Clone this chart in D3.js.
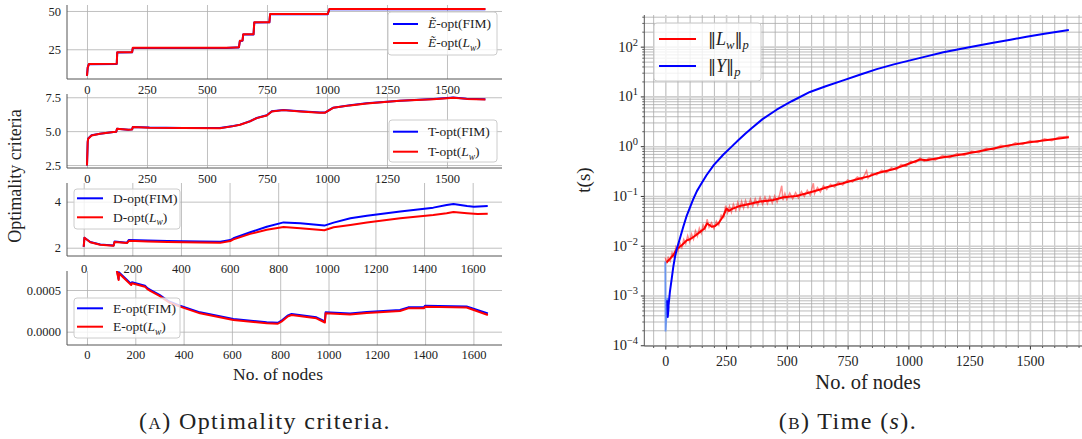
<!DOCTYPE html>
<html><head><meta charset="utf-8">
<script src="https://cdn.jsdelivr.net/npm/d3@7"></script>
<style>body{margin:0;background:#fff}svg{display:block}svg text{font-family:"Liberation Serif","Times New Roman",serif}</style>
</head><body><svg id="c" width="1082" height="439"></svg>
<script>
// ---------------- DATA ----------------
const ticksX250 = [0,250,500,750,1000,1250,1500];
const ticksX200 = [0,200,400,600,800,1000,1200,1400,1600];
const ticksEt = [25,50];
const ticksT = [2.5,5.0,7.5];
const ticksD = [2,4];
const ticksE = [0,0.0005];
const ticksTimeX = [0,250,500,750,1000,1250,1500];
const ticksTimeExp = [-4,-3,-2,-1,0,1,2];

// Panel 1: E~-opt
const etFIM = [[0,7.6],[3,13],[8,15.3],[124,15.4],[126,22.9],[188,23.0],[191,25.9],[580,25.9],[620,26.1],[633,26.2],[637,30.4],[648,30.6],[651,34.7],[694,34.7],[697,42.5],[760,42.6],[763,47.9],[1003,47.9],[1010,51.2],[1660,51.2]];
const etLw  = [[0,7.6],[3,13],[8,15.4],[124,15.5],[126,23.0],[188,23.1],[191,26.0],[580,26.0],[620,26.2],[633,26.3],[637,30.5],[648,30.7],[651,34.8],[694,34.8],[697,42.6],[760,42.7],[763,48.0],[1003,48.0],[1010,51.3],[1660,51.3]];
// Panel 2: T-opt
const tFIM = [[0,2.47],[3,4.2],[5,4.45],[19,4.69],[54,4.81],[110,4.94],[122,4.96],[125,5.18],[172,5.11],[188,5.13],[191,5.31],[260,5.26],[400,5.24],[554,5.23],[610,5.38],[638,5.48],[679,5.73],[707,5.97],[749,6.17],[770,6.46],[818,6.56],[888,6.46],[971,6.37],[992,6.37],[1026,6.73],[1096,6.91],[1165,7.05],[1304,7.25],[1443,7.37],[1500,7.44],[1526,7.48],[1582,7.39],[1660,7.35]];
const tLw  = [[0,2.47],[3,4.2],[5,4.44],[19,4.68],[54,4.8],[110,4.93],[122,4.95],[125,5.17],[172,5.1],[188,5.12],[191,5.3],[260,5.25],[400,5.23],[554,5.22],[610,5.37],[638,5.47],[679,5.72],[707,5.96],[749,6.16],[770,6.45],[818,6.55],[888,6.45],[971,6.36],[992,6.36],[1026,6.72],[1096,6.9],[1165,7.04],[1304,7.24],[1443,7.36],[1500,7.43],[1526,7.47],[1582,7.38],[1660,7.34]];
// Panel 3: D-opt
const dFIM = [[0,2.04],[3,2.43],[27,2.25],[68,2.14],[123,2.1],[127,2.27],[178,2.22],[186,2.34],[263,2.31],[345,2.29],[480,2.27],[562,2.26],[603,2.33],[616,2.41],[685,2.67],[753,2.91],[822,3.1],[891,3.06],[990,2.96],[1028,3.09],[1097,3.28],[1165,3.39],[1302,3.57],[1438,3.74],[1493,3.85],[1521,3.9],[1577,3.81],[1605,3.78],[1662,3.81]];
const dLw  = [[0,2.04],[3,2.43],[27,2.24],[68,2.13],[123,2.09],[127,2.25],[178,2.2],[186,2.3],[263,2.27],[345,2.25],[480,2.23],[562,2.21],[603,2.29],[616,2.36],[685,2.6],[753,2.78],[822,2.9],[891,2.84],[990,2.76],[1028,2.89],[1097,2.99],[1165,3.09],[1302,3.28],[1438,3.42],[1493,3.5],[1521,3.55],[1577,3.5],[1620,3.46],[1662,3.47]];
// Panel 4: E-opt
const eFIM = [[0,0.0042],[40,0.0021],[80,0.0013],[119,0.00081],[131,0.000632],[132,0.000712],[183,0.000572],[186,0.000592],[240,0.000552],[250,0.000522],[262,0.000502],[300,0.000442],[340,0.000362],[385,0.000312],[468,0.000232],[606,0.000152],[744,0.000112],[790,0.000107],[805,0.000132],[830,0.000192],[847,0.000212],[950,0.000172],[985,0.000122],[988,0.000232],[1089,0.000217],[1158,0.000237],[1296,0.00026],[1330,0.000292],[1395,0.000292],[1400,0.000312],[1572,0.000302],[1660,0.00022]];
const eLw  = [[0,0.0042],[40,0.0021],[80,0.0013],[119,0.0008],[131,0.00062],[132,0.0007],[183,0.00056],[186,0.00058],[240,0.00054],[250,0.00051],[262,0.00049],[300,0.00043],[340,0.00035],[385,0.0003],[468,0.00022],[606,0.00014],[744,0.0001],[790,0.000095],[805,0.00012],[830,0.00018],[847,0.0002],[950,0.00016],[985,0.00011],[988,0.00022],[1089,0.000205],[1158,0.000225],[1296,0.000248],[1330,0.00028],[1395,0.00028],[1400,0.0003],[1572,0.00029],[1660,0.0002]];

// Right panel: time (s)
const timeYraw = [[0,0.0048],[1,0.00019],[9,0.0009],[12,0.0004],[14,0.0006]];
const timeY = [[8,0.0008],[10,0.00037],[13,0.0006],[19,0.0012],[26,0.0021],[33,0.0038],[40,0.006],[47,0.0085],[60,0.014],[74,0.024],[88,0.04],[100,0.056],[115,0.086],[130,0.125],[143,0.16],[170,0.264],[200,0.42],[239,0.68],[273,0.98],[300,1.32],[330,1.8],[355,2.3],[400,3.5],[458,5.4],[520,8.0],[595,12.3],[660,16.0],[732,21.0],[800,27.2],[870,35.3],[940,44],[1007,53],[1070,63],[1144,77],[1250,97],[1349,120],[1420,138],[1486,158],[1560,182],[1660,216]];
const timeLw = [[5,0.0046],[20,0.0055],[33,0.0065],[47,0.0085],[70,0.0105],[88,0.0128],[102,0.0135],[120,0.0155],[143,0.019],[160,0.022],[172,0.028],[182,0.026],[191,0.024],[205,0.025],[218,0.028],[230,0.034],[239,0.04],[252,0.056],[262,0.05],[275,0.055],[307,0.063],[350,0.07],[390,0.077],[444,0.083],[486,0.094],[540,0.1],[582,0.113],[637,0.135],[664,0.15],[730,0.18],[801,0.225],[840,0.25],[870,0.285],[938,0.343],[1007,0.453],[1048,0.54],[1075,0.52],[1144,0.6],[1200,0.66],[1281,0.775],[1350,0.9],[1418,1.05],[1514,1.23],[1580,1.35],[1660,1.52]];
const timeLwRaw = [[0,0.0058],[5,0.0044],[12,0.0058],[20,0.0049],[28,0.0072],[36,0.006],[44,0.0095],[52,0.0078],[60,0.0115],[68,0.0092],[76,0.0133],[84,0.011],[92,0.0158],[100,0.012],[108,0.0172],[116,0.0135],[124,0.0198],[132,0.0155],[140,0.0225],[148,0.0178],[156,0.026],[164,0.0215],[172,0.034],[180,0.0235],[190,0.029],[200,0.022],[210,0.031],[220,0.026],[230,0.041],[240,0.037],[248,0.064],[256,0.046],[264,0.062],[272,0.047],[280,0.068],[290,0.051],[298,0.074],[306,0.054],[314,0.078],[322,0.057],[330,0.081],[340,0.059],[350,0.085],[360,0.062],[370,0.088],[380,0.065],[390,0.093],[400,0.068],[410,0.095],[420,0.07],[430,0.097],[440,0.072],[450,0.1],[460,0.075],[470,0.105],[479,0.16],[484,0.082],[492,0.112],[500,0.085],[512,0.115],[524,0.088],[536,0.117],[548,0.091],[560,0.122],[572,0.098],[584,0.13],[596,0.104],[609,0.18],[614,0.112],[626,0.148],[638,0.12],[650,0.16],[664,0.135],[680,0.172],[696,0.15],[712,0.19],[730,0.165],[750,0.21],[770,0.19],[790,0.24],[810,0.212],[828,0.32],[834,0.226],[850,0.285],[870,0.264],[890,0.33],[910,0.295],[930,0.37],[950,0.335],[970,0.43],[990,0.395],[1010,0.5],[1030,0.465],[1048,0.58],[1065,0.495],[1085,0.575],[1110,0.525],[1140,0.645],[1170,0.59],[1200,0.71],[1230,0.655],[1260,0.8],[1290,0.74],[1320,0.91],[1350,0.845],[1380,1.04],[1410,0.97],[1440,1.17],[1470,1.08],[1500,1.29],[1530,1.19],[1560,1.4],[1590,1.29],[1620,1.53],[1660,1.56]];

// ---------------- DRAWING ----------------
const svg = d3.select("#c");
const GRID = "#b0b0b0", SPINE = "#555", TXT = "#222";
const BLUE = "#0000ff", RED = "#ff0000";

function rich(t, parts, size){
  let shift = 0;
  parts.forEach(([s, st]) => {
    const ts = t.append("tspan").text(s);
    let target = 0;
    if (st === "sub"){ target = size*0.25; ts.attr("font-size", size*0.7); }
    if (st === "sup"){ target = -size*0.42; ts.attr("font-size", size*0.72); }
    if (st === "i" || st === "sub") ts.style("font-style","italic");
    if (st === "sc") ts.style("font-variant","small-caps");
    if (st === "bar") ts.style("font-family","'DejaVu Serif',serif").attr("font-size", size*0.9);
    ts.attr("dy", target - shift);
    shift = target;
  });
}

function legend(g, box, items, fs){
  g.append("rect").attr("x",box[0]).attr("y",box[1]).attr("width",box[2]-box[0]).attr("height",box[3]-box[1])
    .attr("rx",3).attr("fill","#fff").attr("fill-opacity",0.8).attr("stroke","#cccccc").attr("stroke-width",1);
  items.forEach(it => {
    g.append("line").attr("x1",it.hx[0]).attr("x2",it.hx[1]).attr("y1",it.y).attr("y2",it.y)
      .attr("stroke",it.color).attr("stroke-width",2);
    const t = g.append("text").attr("x",it.tx).attr("y",it.y + fs*0.33).attr("font-size",fs).attr("fill",TXT);
    rich(t, it.label, fs);
  });
}

let clipN = 0;
function leftPanel(p){
  const g = svg.append("g");
  const [xl,xr] = p.x.range(), [yb,yt] = p.y.range();
  const id = "clip" + (clipN++);
  svg.append("clipPath").attr("id",id).append("rect").attr("x",xl).attr("y",yt).attr("width",xr-xl).attr("height",yb-yt);
  const gx = g.append("g").attr("transform",`translate(0,${yb})`)
    .call(d3.axisBottom(p.x).tickValues(p.xt).tickSize(-(yb-yt)).tickFormat(""));
  gx.select(".domain").remove();
  gx.selectAll("line").attr("stroke",GRID).attr("stroke-width",0.8);
  const gy = g.append("g").attr("transform",`translate(${xl},0)`)
    .call(d3.axisLeft(p.y).tickValues(p.yt).tickSize(-(xr-xl)).tickFormat(""));
  gy.select(".domain").remove();
  gy.selectAll("line").attr("stroke",GRID).attr("stroke-width",0.8);
  g.append("line").attr("x1",xl).attr("x2",xl).attr("y1",yt).attr("y2",yb).attr("stroke",SPINE).attr("stroke-width",1);
  g.append("line").attr("x1",xl).attr("x2",xr).attr("y1",yb).attr("y2",yb).attr("stroke",SPINE).attr("stroke-width",1);
  const lx = g.append("g").attr("transform",`translate(0,${p.xlab})`)
    .call(d3.axisBottom(p.x).tickValues(p.xt).tickSize(0).tickPadding(0).tickFormat(d3.format("d")));
  lx.select(".domain").remove();
  lx.selectAll("text").attr("y",0).attr("dy",0).attr("font-size",12.5).attr("fill",TXT);
  const ly = g.append("g").attr("transform",`translate(61,0)`)
    .call(d3.axisLeft(p.y).tickValues(p.yt).tickSize(0).tickPadding(0).tickFormat(p.yfmt));
  ly.select(".domain").remove();
  ly.selectAll("text").attr("x",0).attr("dy","0.33em").attr("font-size",12.5).attr("fill",TXT);
  const line = d3.line().x(d=>p.x(d[0])).y(d=>p.y(d[1]));
  const lg = g.append("g").attr("clip-path",`url(#${id})`);
  p.series.forEach(s => lg.append("path").datum(s.data).attr("d",line).attr("fill","none")
    .attr("stroke",s.color).attr("stroke-width",2).attr("stroke-linejoin","round"));
  legend(g, p.legBox, p.legItems, 13.5);
}

const fimL = (pre) => [[pre,"i"],["-opt(FIM)","n"]];
const lwL = (pre) => [[pre,"i"],["-opt(","n"],["L","i"],["w","sub"],[")","n"]];
const fimN = (pre) => [[pre+"-opt(FIM)","n"]];
const lwN = (pre) => [[pre+"-opt(","n"],["L","i"],["w","sub"],[")","n"]];

leftPanel({
  x: d3.scaleLinear().domain([-83.3,1729.2]).range([67,502]),
  y: d3.scaleLinear().domain([5.6,53.9]).range([79,5]),
  xt: ticksX250, yt: ticksEt, yfmt: d3.format("d"), xlab: 94,
  series: [{data:etFIM,color:BLUE},{data:etLw,color:RED}],
  legBox:[388,12,497,55],
  legItems:[{y:24,hx:[393,418],tx:428,color:BLUE,label:fimL("Ẽ")},{y:43,hx:[393,418],tx:428,color:RED,label:lwL("Ẽ")}]
});
leftPanel({
  x: d3.scaleLinear().domain([-83.3,1729.2]).range([67,502]),
  y: d3.scaleLinear().domain([2.28,7.74]).range([168,94]),
  xt: ticksX250, yt: ticksT, yfmt: d3.format(".1f"), xlab: 183,
  series: [{data:tFIM,color:BLUE},{data:tLw,color:RED}],
  legBox:[389,120,497,162],
  legItems:[{y:131.7,hx:[393,418],tx:428,color:BLUE,label:fimN("T")},{y:151.7,hx:[393,418],tx:428,color:RED,label:lwN("T")}]
});
leftPanel({
  x: d3.scaleLinear().domain([-68.7,1720.7]).range([67,502]),
  y: d3.scaleLinear().domain([1.64,4.81]).range([256,183]),
  xt: ticksX200, yt: ticksD, yfmt: d3.format("d"), xlab: 272.5,
  series: [{data:dFIM,color:BLUE},{data:dLw,color:RED}],
  legBox:[74,189,180,229],
  legItems:[{y:198.3,hx:[77,103],tx:113,color:BLUE,label:fimN("D")},{y:217.3,hx:[77,103],tx:113,color:RED,label:lwN("D")}]
});
leftPanel({
  x: d3.scaleLinear().domain([-82.8,1718.4]).range([67,502]),
  y: d3.scaleLinear().domain([-0.00016,0.000728]).range([345,271]),
  xt: ticksX200, yt: ticksE, yfmt: d3.format(".4f"), xlab: 358.5,
  series: [{data:eFIM,color:BLUE},{data:eLw,color:RED}],
  legBox:[74,298,180,338],
  legItems:[{y:308.3,hx:[77,103],tx:113,color:BLUE,label:fimN("E")},{y:326.7,hx:[77,103],tx:113,color:RED,label:lwN("E")}]
});

svg.append("text").attr("transform","translate(15,176) rotate(-90)").attr("text-anchor","middle")
  .attr("dominant-baseline","central").attr("font-size",18).attr("fill",TXT).text("Optimality criteria");
svg.append("text").attr("x",278).attr("y",380).attr("text-anchor","middle")
  .attr("font-size",17.5).attr("fill",TXT).text("No. of nodes");

// ---------------- Right panel ----------------
(function(){
  const x = d3.scaleLinear().domain([-86.4,1743]).range([644.3,1089]);
  const y = d3.scaleLog().domain([Math.pow(10,-4.015),Math.pow(10,2.636)]).range([346,15]);
  const g = svg.append("g");
  const [xl,xr] = x.range(), [yb,yt] = y.range();
  svg.append("clipPath").attr("id","clipR").append("rect").attr("x",xl).attr("y",yt).attr("width",xr-xl).attr("height",yb-yt);
  const minorX = d3.range(-50,1750,50).filter(v => v % 250 !== 0);
  const majorY = ticksTimeExp.map(e => Math.pow(10,e));
  const minorY = y.ticks().filter(v => { const m = v/Math.pow(10,Math.floor(Math.log10(v)+1e-9)); return Math.abs(m-1) > 1e-6; });
  const grid = (axis, tr, vals, size, col, w) => {
    const gg = g.append("g").attr("transform",tr).call(axis.tickValues(vals).tickSize(size).tickFormat(""));
    gg.select(".domain").remove();
    gg.selectAll("line").attr("stroke",col).attr("stroke-width",w);
  };
  grid(d3.axisBottom(x), `translate(0,${yb})`, minorX, -(yb-yt), "#a9a9a9", 0.8);
  grid(d3.axisLeft(y), `translate(${xl},0)`, minorY, -(xr-xl), "#a9a9a9", 0.8);
  grid(d3.axisBottom(x), `translate(0,${yb})`, ticksTimeX, -(yb-yt), "#cfcfcf", 1.6);
  grid(d3.axisLeft(y), `translate(${xl},0)`, majorY, -(xr-xl), "#cfcfcf", 1.6);
  grid(d3.axisBottom(x), `translate(0,${yb})`, minorX, 2, "#333", 0.8);
  grid(d3.axisBottom(x), `translate(0,${yb})`, ticksTimeX, 3.5, "#333", 1);
  grid(d3.axisLeft(y), `translate(${xl},0)`, minorY, 2, "#333", 0.8);
  grid(d3.axisLeft(y), `translate(${xl},0)`, majorY, 3.5, "#333", 1);
  g.append("line").attr("x1",xl).attr("x2",xl).attr("y1",yt).attr("y2",yb).attr("stroke",SPINE).attr("stroke-width",1);
  g.append("line").attr("x1",xl).attr("x2",xr).attr("y1",yb).attr("y2",yb).attr("stroke",SPINE).attr("stroke-width",1);
  const lx = g.append("g").attr("transform","translate(0,366)")
    .call(d3.axisBottom(x).tickValues(ticksTimeX).tickSize(0).tickPadding(0).tickFormat(d3.format("d")));
  lx.select(".domain").remove();
  lx.selectAll("text").attr("y",0).attr("dy",0).attr("font-size",14).attr("fill",TXT);
  ticksTimeExp.forEach(e => {
    const t = g.append("text").attr("x",638).attr("y",y(Math.pow(10,e))+5).attr("text-anchor","end")
      .attr("font-size",14.5).attr("fill",TXT);
    rich(t, [["10","n"],[e<0?"\u2212"+(-e):String(e),"sup"]], 14.5);
  });
  const line = d3.line().x(d=>x(d[0])).y(d=>y(d[1]));
  const lg = g.append("g").attr("clip-path","url(#clipR)");
  lg.append("path").datum(timeLwRaw).attr("d",line).attr("fill","none").attr("stroke",RED).attr("stroke-opacity",0.45).attr("stroke-width",1.5);
  lg.append("path").datum(timeLw).attr("d",line).attr("fill","none").attr("stroke",RED).attr("stroke-width",2).attr("stroke-linejoin","round");
  lg.append("path").datum(timeYraw).attr("d",line).attr("fill","none").attr("stroke","#6a95ee").attr("stroke-width",1.8);
  lg.append("path").datum(timeY).attr("d",line).attr("fill","none").attr("stroke",BLUE).attr("stroke-width",2).attr("stroke-linejoin","round");
  legend(g, [654,23,761,81], [
    {y:39,hx:[659,696],tx:708,color:RED,label:[["\u2016","bar"],["L","i"],["w","sub"],["\u2016","bar"],["p","sub"]]},
    {y:66,hx:[659,696],tx:708,color:BLUE,label:[["\u2016","bar"],["Y","i"],["\u2016","bar"],["p","sub"]]}
  ], 18);
  svg.append("text").attr("transform","translate(583,180) rotate(-90)").attr("text-anchor","middle")
    .attr("dominant-baseline","central").attr("font-size",19).attr("fill",TXT).text("t(s)");
  svg.append("text").attr("x",868).attr("y",389).attr("text-anchor","middle")
    .attr("font-size",20.5).attr("fill",TXT).text("No. of nodes");
})();

const capA = svg.append("text").attr("x",265).attr("y",429).attr("text-anchor","middle")
  .attr("font-size",24).attr("letter-spacing",1.4).attr("fill",TXT);
rich(capA, [["(","n"],["a","sc"],[") Optimality criteria.","n"]], 24);
const capB = svg.append("text").attr("x",848).attr("y",429).attr("text-anchor","middle")
  .attr("font-size",24).attr("letter-spacing",1.4).attr("fill",TXT);
rich(capB, [["(","n"],["b","sc"],[") Time (","n"],["s","i"],[").","n"]], 24);
</script></body></html>
